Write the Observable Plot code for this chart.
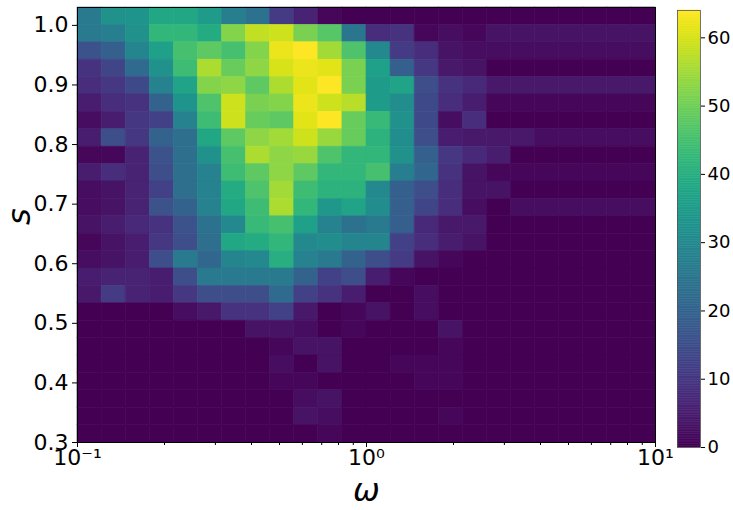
<!DOCTYPE html>
<html><head><meta charset="utf-8">
<script src="https://cdn.jsdelivr.net/npm/d3@7"></script>
<script src="https://cdn.jsdelivr.net/npm/@observablehq/plot@0.6"></script>
<style>
body{margin:0;background:#fff;}
#wrap{position:relative;width:733px;height:510px;}
#wrap svg{position:absolute;top:0;}
</style></head><body><div id="wrap"></div>
<script>
// ---- data ----
const omegaRange = [0.1, 10];      // log-spaced histogram range
const nOmegaBins = 24;
const sRange = [0.3, 1.03];
const nSBins = 25;
const xTicks = [0.1, 1, 10];
const xTickLabels = ["10\u207B\u00B9", "10\u2070", "10\u00B9"];
const yTicks = [0.3, 0.4, 0.5, 0.6, 0.7, 0.8, 0.9, 1.0];
const colorTicks = [0, 10, 20, 30, 40, 50, 60];
const colorMax = 64;
const xLabel = "ω";
const yLabel = "s";
// counts per cell, rows from top (s ≈ 1.03) to bottom (s = 0.3), columns from ω = 0.1 to ω = 10
const counts = [
  [26,32,33,38,38,35,27,24,11,6,1,0,0,0,0,0,0,0,0,0,0,0,0,0],
  [26,27,32,42,42,39,52,58,59,51,47,25,8,9,1,2,1,3,3,3,3,3,3,3],
  [16,19,29,36,45,48,45,52,62,64,55,46,30,11,8,3,2,2,2,2,2,2,2,2],
  [9,13,22,32,44,56,49,53,60,62,61,51,36,19,10,4,3,0,0,0,0,0,0,0],
  [8,10,14,28,37,52,53,48,56,61,64,51,35,37,15,9,7,4,4,4,4,4,4,4],
  [5,8,9,20,33,46,59,51,52,62,59,57,35,31,14,8,5,1,1,1,1,1,1,1],
  [2,5,10,12,28,44,59,49,48,61,64,49,43,32,14,2,8,0,0,0,0,0,0,0],
  [5,15,10,20,23,38,48,53,55,59,54,49,41,31,15,5,4,4,4,2,2,2,2,2],
  [1,1,6,16,23,32,45,56,53,54,46,42,42,32,19,10,7,5,0,0,0,0,0,0],
  [5,8,6,15,23,28,44,48,53,48,42,42,45,27,21,9,3,1,1,1,1,1,1,1],
  [2,3,6,12,23,28,39,46,55,44,41,41,30,19,15,8,3,3,0,0,0,0,0,0],
  [2,3,6,16,20,28,38,44,56,42,34,37,31,19,13,8,2,0,2,2,2,2,2,2],
  [3,5,7,9,16,24,30,43,45,36,28,24,26,19,7,4,4,0,0,0,0,0,0,0],
  [1,3,5,10,15,23,38,39,42,30,31,29,29,12,8,5,3,0,0,0,0,0,0,0],
  [2,3,5,15,26,21,29,30,40,28,26,20,15,11,3,1,0,0,0,0,0,0,0,0],
  [5,6,6,5,15,26,26,26,26,20,12,15,5,1,0,0,0,0,0,0,0,0,0,0],
  [4,11,6,5,10,15,15,15,22,12,9,5,0,0,2,0,0,0,0,0,0,0,0,0],
  [0,0,0,0,2,4,9,9,12,4,0,1,3,0,2,0,0,0,0,0,0,0,0,0],
  [0,0,0,0,0,0,0,3,3,2,0,1,0,0,0,3,0,0,0,0,0,0,0,0],
  [0,0,0,0,0,0,0,0,1,3,3,0,0,0,0,1,0,0,0,0,0,0,0,0],
  [0,0,0,0,0,0,0,0,2,0,3,0,0,1,1,1,0,0,0,0,0,0,0,0],
  [0,0,0,0,0,0,0,0,1,1,0,0,0,0,1,1,0,0,0,0,0,0,0,0],
  [0,0,0,0,0,0,0,0,0,2,3,0,0,0,0,0,0,0,0,0,0,0,0,0],
  [0,0,0,0,0,0,0,0,0,3,2,0,0,0,0,1,0,0,0,0,0,0,0,0],
  [0,0,0,0,0,0,0,0,0,0,1,0,0,0,0,0,0,0,0,0,0,0,0,0]
];

// ---- bin edges ----
const lx0 = Math.log10(omegaRange[0]), lx1 = Math.log10(omegaRange[1]);
const omegaEdges = d3.range(nOmegaBins + 1).map(i => Math.pow(10, lx0 + (lx1 - lx0) * i / nOmegaBins));
const sEdges = d3.range(nSBins + 1).map(k => sRange[0] + (sRange[1] - sRange[0]) * k / nSBins);
const minorTicks = [];
for (const dec of [0.1, 1]) for (let m = 2; m <= 9; m++) minorTicks.push(dec * m);

const cells = [];
counts.forEach((row, r) => row.forEach((v, c) => {
  const k = nSBins - 1 - r;
  cells.push({x1: omegaEdges[c], x2: omegaEdges[c + 1], y1: sEdges[k], y2: sEdges[k + 1], count: v});
}));

const colorScale = {type: "linear", scheme: "viridis", domain: [0, colorMax]};
const font = {fontFamily: "DejaVu Sans", background: "transparent", color: "black"};

const main = Plot.plot({
  width: 733, height: 510,
  marginLeft: 77, marginRight: 78, marginTop: 7, marginBottom: 68,
  style: font,
  x: {type: "log", domain: omegaRange},
  y: {domain: sRange},
  color: colorScale,
  marks: [
    Plot.rect(cells, {x1: "x1", x2: "x2", y1: "y1", y2: "y2", fill: "count", stroke: "count", strokeWidth: 0.6}),
    Plot.axisX(minorTicks, {tickSize: 3, tickFormat: () => "", label: null}),
    Plot.axisX(xTicks, {tickSize: 5, tickPadding: 2, fontSize: 22, tickFormat: d => xTickLabels[xTicks.indexOf(d)], label: null}),
    Plot.axisY(yTicks, {tickSize: 5, tickPadding: 4, fontSize: 22, tickFormat: d => d.toFixed(1), label: null}),
    Plot.frame({stroke: "black", strokeWidth: 1}),
    Plot.text([xLabel], {text: d => d, frameAnchor: "bottom", lineAnchor: "bottom", dy: 58, fontSize: 32, fontStyle: "italic"}),
    Plot.text([yLabel], {text: d => d, frameAnchor: "left", dx: -58, rotate: -90, fontSize: 32, fontStyle: "italic"})
  ]
});

const steps = d3.range(0, colorMax, 0.25);
const cbar = Plot.plot({
  width: 56, height: 510,
  marginLeft: 0, marginRight: 33, marginTop: 10, marginBottom: 63,
  style: font,
  x: {domain: [0, 1], axis: null},
  y: {domain: [0, colorMax], axis: null},
  color: colorScale,
  marks: [
    Plot.rect(steps, {x1: () => 0, x2: () => 1, y1: d => d, y2: d => d + 0.25, fill: d => d + 0.125, stroke: d => d + 0.125, strokeWidth: 0.5}),
    Plot.frame({stroke: "#555", strokeWidth: 0.8}),
    Plot.axisY(colorTicks, {anchor: "right", tickSize: 4, tickPadding: 3, fontSize: 18, label: null})
  ]
});

const wrap = document.getElementById("wrap");
main.style.left = "0px";
cbar.style.left = "677px";
wrap.appendChild(main);
wrap.appendChild(cbar);
</script>
</body></html>
